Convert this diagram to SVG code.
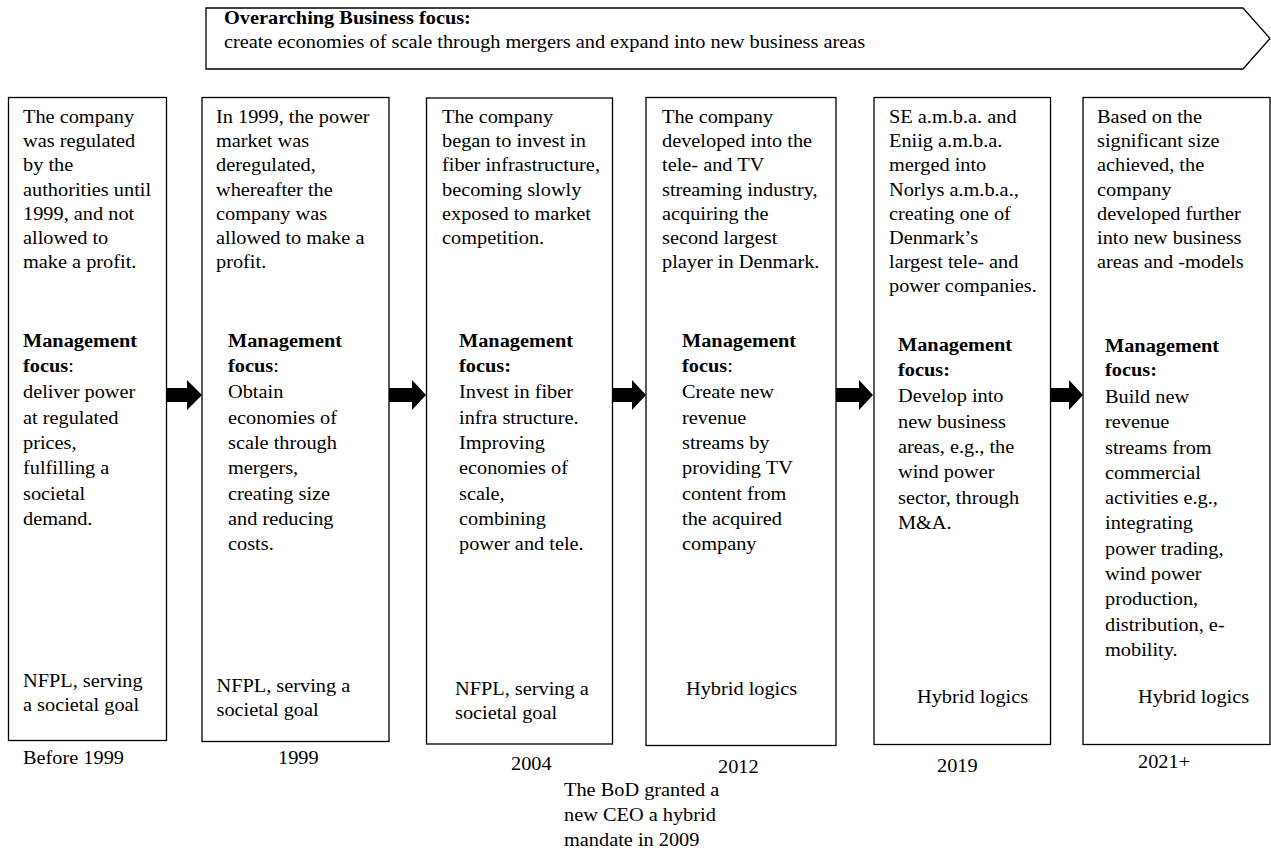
<svg xmlns="http://www.w3.org/2000/svg" width="1271" height="850" viewBox="0 0 1271 850">
  <style>
    .t { font-family: "Liberation Serif", "Times New Roman", serif; font-size: 18px; fill: #000; }
    .b { font-weight: bold; }
    .box { fill: #fff; stroke: #000; stroke-width: 1.3; }
    .arr { fill: #000; stroke: none; }
  </style>
  <rect width="1271" height="850" fill="#fff"/>

  <!-- Overarching focus banner -->
  <g id="banner">
    <polygon class="box" points="206,8 1243,8 1270,38.5 1243,69 206,69"/>
    <text class="t" transform="translate(224,24) scale(1.13 1)">
      <tspan x="0" class="b">Overarching Business focus:</tspan>
      <tspan x="0" dy="24">create economies of scale through mergers and expand into new business areas</tspan>
    </text>
  </g>

  <!-- Timeline connectors -->
  <g id="connectors">
    <polygon class="arr" points="166,388 187,388 187,380 202,395 187,410 187,402 166,402"/>
    <polygon class="arr" points="389,388 412,388 412,380 426,395 412,410 412,402 389,402"/>
    <polygon class="arr" points="613,388 632,388 632,380 646,395 632,410 632,402 613,402"/>
    <polygon class="arr" points="836,388 859,388 859,380 873,395 859,410 859,402 836,402"/>
    <polygon class="arr" points="1051,388 1069,388 1069,380 1083,395 1069,410 1069,402 1051,402"/>
  </g>

  <!-- Before 1999 -->
  <g id="stage-before-1999">
    <rect class="box" x="8.5" y="97.5" width="158" height="643"/>
    <text class="t" transform="translate(23,123.3) scale(1.13 1)">
      <tspan x="0">The company</tspan>
      <tspan x="0" dy="24.1">was regulated</tspan>
      <tspan x="0" dy="24.1">by the</tspan>
      <tspan x="0" dy="24.1">authorities until</tspan>
      <tspan x="0" dy="24.1">1999, and not</tspan>
      <tspan x="0" dy="24.1">allowed to</tspan>
      <tspan x="0" dy="24.1">make a profit.</tspan>
    </text>
    <text class="t" transform="translate(23,347) scale(1.13 1)">
      <tspan x="0" class="b">Management</tspan>
      <tspan x="0" dy="25"><tspan class="b">focus</tspan>:</tspan>
      <tspan x="0" dy="26.5">deliver power</tspan>
      <tspan x="0" dy="25.3">at regulated</tspan>
      <tspan x="0" dy="25.3">prices,</tspan>
      <tspan x="0" dy="25.3">fulfilling a</tspan>
      <tspan x="0" dy="25.3">societal</tspan>
      <tspan x="0" dy="25.3">demand.</tspan>
    </text>
    <text class="t" transform="translate(23,687) scale(1.13 1)">
      <tspan x="0">NFPL, serving</tspan>
      <tspan x="0" dy="24.5">a societal goal</tspan>
    </text>
    <text class="t" transform="translate(23,764) scale(1.13 1)">Before 1999</text>
  </g>

  <!-- 1999 -->
  <g id="stage-1999">
    <rect class="box" x="202" y="97.5" width="187" height="644"/>
    <text class="t" transform="translate(216,123.3) scale(1.13 1)">
      <tspan x="0">In 1999, the power</tspan>
      <tspan x="0" dy="24.1">market was</tspan>
      <tspan x="0" dy="24.1">deregulated,</tspan>
      <tspan x="0" dy="24.1">whereafter the</tspan>
      <tspan x="0" dy="24.1">company was</tspan>
      <tspan x="0" dy="24.1">allowed to make a</tspan>
      <tspan x="0" dy="24.1">profit.</tspan>
    </text>
    <text class="t" transform="translate(228,347) scale(1.13 1)">
      <tspan x="0" class="b">Management</tspan>
      <tspan x="0" dy="25"><tspan class="b">focus</tspan>:</tspan>
      <tspan x="0" dy="26.5">Obtain</tspan>
      <tspan x="0" dy="25.3">economies of</tspan>
      <tspan x="0" dy="25.3">scale through</tspan>
      <tspan x="0" dy="25.3">mergers,</tspan>
      <tspan x="0" dy="25.3">creating size</tspan>
      <tspan x="0" dy="25.3">and reducing</tspan>
      <tspan x="0" dy="25.3">costs.</tspan>
    </text>
    <text class="t" transform="translate(216.5,692) scale(1.13 1)">
      <tspan x="0">NFPL, serving a</tspan>
      <tspan x="0" dy="24.5">societal goal</tspan>
    </text>
    <text class="t" transform="translate(278,764) scale(1.13 1)">1999</text>
  </g>

  <!-- 2004 -->
  <g id="stage-2004">
    <rect class="box" x="426.5" y="98" width="186" height="646"/>
    <text class="t" transform="translate(442,123.3) scale(1.13 1)">
      <tspan x="0">The company</tspan>
      <tspan x="0" dy="24.1">began to invest in</tspan>
      <tspan x="0" dy="24.1">fiber infrastructure,</tspan>
      <tspan x="0" dy="24.1">becoming slowly</tspan>
      <tspan x="0" dy="24.1">exposed to market</tspan>
      <tspan x="0" dy="24.1">competition.</tspan>
    </text>
    <text class="t" transform="translate(459,347) scale(1.13 1)">
      <tspan x="0" class="b">Management</tspan>
      <tspan x="0" dy="25" class="b">focus:</tspan>
      <tspan x="0" dy="26.5">Invest in fiber</tspan>
      <tspan x="0" dy="25.3">infra structure.</tspan>
      <tspan x="0" dy="25.3">Improving</tspan>
      <tspan x="0" dy="25.3">economies of</tspan>
      <tspan x="0" dy="25.3">scale,</tspan>
      <tspan x="0" dy="25.3">combining</tspan>
      <tspan x="0" dy="25.3">power and tele.</tspan>
    </text>
    <text class="t" transform="translate(455,695) scale(1.13 1)">
      <tspan x="0">NFPL, serving a</tspan>
      <tspan x="0" dy="24.5">societal goal</tspan>
    </text>
    <text class="t" transform="translate(511,770) scale(1.13 1)">2004</text>
  </g>

  <!-- 2012 -->
  <g id="stage-2012">
    <rect class="box" x="646" y="97.5" width="190" height="648"/>
    <text class="t" transform="translate(662,123.3) scale(1.13 1)">
      <tspan x="0">The company</tspan>
      <tspan x="0" dy="24.1">developed into the</tspan>
      <tspan x="0" dy="24.1">tele- and TV</tspan>
      <tspan x="0" dy="24.1">streaming industry,</tspan>
      <tspan x="0" dy="24.1">acquiring the</tspan>
      <tspan x="0" dy="24.1">second largest</tspan>
      <tspan x="0" dy="24.1">player in Denmark.</tspan>
    </text>
    <text class="t" transform="translate(682,347) scale(1.13 1)">
      <tspan x="0" class="b">Management</tspan>
      <tspan x="0" dy="25"><tspan class="b">focus</tspan>:</tspan>
      <tspan x="0" dy="26.5">Create new</tspan>
      <tspan x="0" dy="25.3">revenue</tspan>
      <tspan x="0" dy="25.3">streams by</tspan>
      <tspan x="0" dy="25.3">providing TV</tspan>
      <tspan x="0" dy="25.3">content from</tspan>
      <tspan x="0" dy="25.3">the acquired</tspan>
      <tspan x="0" dy="25.3">company</tspan>
    </text>
    <text class="t" transform="translate(686,695) scale(1.13 1)">Hybrid logics</text>
    <text class="t" transform="translate(718,773) scale(1.13 1)">2012</text>
  </g>

  <!-- 2019 -->
  <g id="stage-2019">
    <rect class="box" x="874" y="97.5" width="176.5" height="647"/>
    <text class="t" transform="translate(889,123.3) scale(1.13 1)">
      <tspan x="0">SE a.m.b.a. and</tspan>
      <tspan x="0" dy="24.1">Eniig a.m.b.a.</tspan>
      <tspan x="0" dy="24.1">merged into</tspan>
      <tspan x="0" dy="24.1">Norlys a.m.b.a.,</tspan>
      <tspan x="0" dy="24.1">creating one of</tspan>
      <tspan x="0" dy="24.1">Denmark’s</tspan>
      <tspan x="0" dy="24.1">largest tele- and</tspan>
      <tspan x="0" dy="24.1">power companies.</tspan>
    </text>
    <text class="t" transform="translate(898,351) scale(1.13 1)">
      <tspan x="0" class="b">Management</tspan>
      <tspan x="0" dy="25" class="b">focus:</tspan>
      <tspan x="0" dy="26.5">Develop into</tspan>
      <tspan x="0" dy="25.3">new business</tspan>
      <tspan x="0" dy="25.3">areas, e.g., the</tspan>
      <tspan x="0" dy="25.3">wind power</tspan>
      <tspan x="0" dy="25.3">sector, through</tspan>
      <tspan x="0" dy="25.3">M&amp;A.</tspan>
    </text>
    <text class="t" transform="translate(917,703) scale(1.13 1)">Hybrid logics</text>
    <text class="t" transform="translate(937,772) scale(1.13 1)">2019</text>
  </g>

  <!-- 2021+ -->
  <g id="stage-2021">
    <rect class="box" x="1083" y="97.5" width="187" height="647"/>
    <text class="t" transform="translate(1097,123.3) scale(1.13 1)">
      <tspan x="0">Based on the</tspan>
      <tspan x="0" dy="24.1">significant size</tspan>
      <tspan x="0" dy="24.1">achieved, the</tspan>
      <tspan x="0" dy="24.1">company</tspan>
      <tspan x="0" dy="24.1">developed further</tspan>
      <tspan x="0" dy="24.1">into new business</tspan>
      <tspan x="0" dy="24.1">areas and -models</tspan>
    </text>
    <text class="t" transform="translate(1105,351.5) scale(1.13 1)">
      <tspan x="0" class="b">Management</tspan>
      <tspan x="0" dy="25" class="b">focus:</tspan>
      <tspan x="0" dy="26.5">Build new</tspan>
      <tspan x="0" dy="25.3">revenue</tspan>
      <tspan x="0" dy="25.3">streams from</tspan>
      <tspan x="0" dy="25.3">commercial</tspan>
      <tspan x="0" dy="25.3">activities e.g.,</tspan>
      <tspan x="0" dy="25.3">integrating</tspan>
      <tspan x="0" dy="25.3">power trading,</tspan>
      <tspan x="0" dy="25.3">wind power</tspan>
      <tspan x="0" dy="25.3">production,</tspan>
      <tspan x="0" dy="25.3">distribution, e-</tspan>
      <tspan x="0" dy="25.3">mobility.</tspan>
    </text>
    <text class="t" transform="translate(1138,703) scale(1.13 1)">Hybrid logics</text>
    <text class="t" transform="translate(1138,768) scale(1.13 1)">2021+</text>
  </g>

  <!-- Note below the 2004-2012 interval -->
  <g id="note-2009">
    <text class="t" transform="translate(564,796) scale(1.13 1)">
      <tspan x="0">The BoD granted a</tspan>
      <tspan x="0" dy="25">new CEO a hybrid</tspan>
      <tspan x="0" dy="25">mandate in 2009</tspan>
    </text>
  </g>
</svg>
